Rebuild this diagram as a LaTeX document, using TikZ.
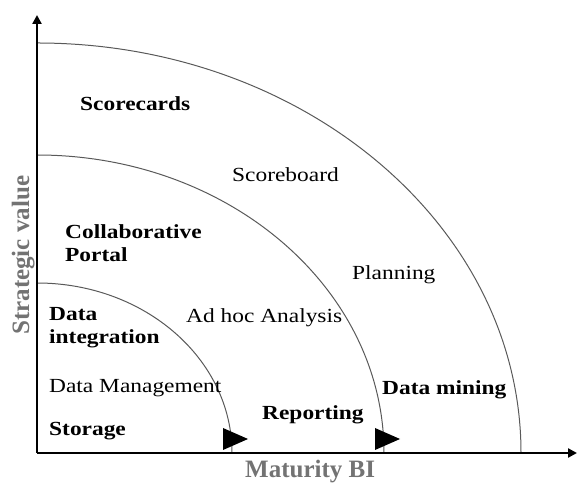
\documentclass[tikz,border=0pt]{standalone}
\usepackage{fontspec}
\setmainfont{Liberation Serif}
\newfontfamily\labelfont[FakeStretch=1.17]{Liberation Serif}
\usetikzlibrary{arrows.meta}

\begin{document}
\begin{tikzpicture}[x=1bp, y=1bp,
	lbl/.style={font=\labelfont\fontsize{20bp}{23bp}\selectfont, inner sep=0, anchor=base west, align=left},
	blbl/.style={lbl, font=\labelfont\bfseries\fontsize{20bp}{23bp}\selectfont},
	axlbl/.style={font=\bfseries\fontsize{25bp}{28bp}\selectfont, text=black!55, inner sep=0, anchor=base west},
	ring/.style={draw=black!65, line width=1bp},
	axis/.style={line width=2.6bp, -{Triangle[width=9bp,length=9bp]}}]
	\useasboundingbox (-37,-31) rectangle (544,453);
	\coordinate (origin) at (0,0);
	\coordinate (xend) at (540,0);
	\coordinate (yend) at (0,438);
	\draw[ring] (0,170) arc[start angle=90, end angle=0, x radius=195, y radius=170] coordinate (innerend);
	\draw[ring] (0,298) arc[start angle=90, end angle=0, x radius=347, y radius=298] coordinate (middleend);
	\draw[ring] (0,410) arc[start angle=90, end angle=0, x radius=484, y radius=410] coordinate (outerend);
	\fill (innerend) ++(-9,3) -- ++(0,22) -- ++(25,-11) -- cycle;
	\fill (middleend) ++(-9,3) -- ++(0,22) -- ++(25,-11) -- cycle;
	\draw[axis] (origin) -- (yend);
	\draw[axis] (origin) -- (xend);
	\node[blbl] (scorecards) at (43,342) {Scorecards};
	\node[lbl] (scoreboard) at (195,271) {Scoreboard};
	\node[blbl] (portal) at (28,191) {Collaborative\\Portal};
	\node[lbl] (planning) at (315,173) {Planning};
	\node[blbl] (integration) at (12,109) {Data\\integration};
	\node[lbl] (adhoc) at (149,130) {Ad hoc Analysis};
	\node[lbl] (management) at (12,60) {Data Management};
	\node[blbl] (mining) at (345,58) {Data mining};
	\node[blbl] (reporting) at (225,33) {Reporting};
	\node[blbl] (storage) at (12,17) {Storage};
	\node[axlbl] (maturity) at (208,-25) {Maturity BI};
	\node[axlbl, rotate=90] (strategic) at (-8,118) {Strategic value};
\end{tikzpicture}
\end{document}
